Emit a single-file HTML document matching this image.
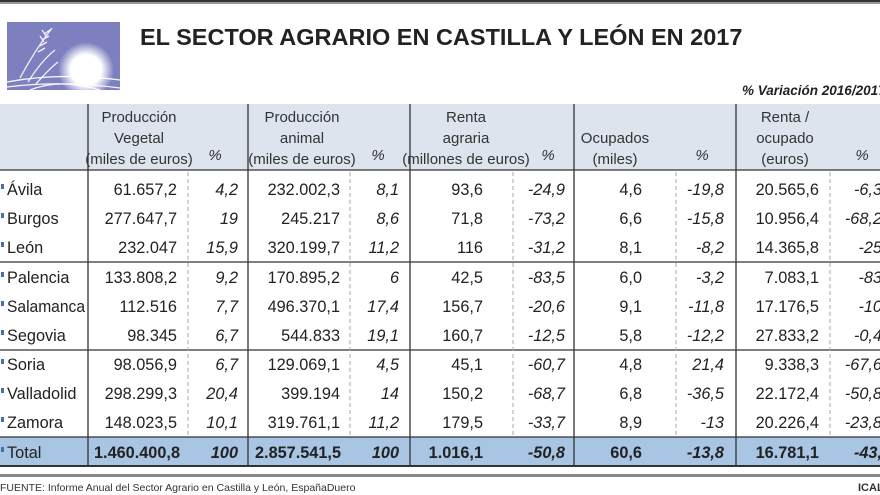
<!DOCTYPE html>
<html><head><meta charset="utf-8"><style>
html,body{margin:0;padding:0;background:#fff}
svg{display:block}
text{font-family:"Liberation Sans",sans-serif;fill:#222}
.n{font-size:16.3px}
.i{font-style:italic}
.h{font-size:15px;fill:#333}
</style></head><body>
<svg width="880" height="495" viewBox="0 0 880 495" xmlns="http://www.w3.org/2000/svg">
<rect x="0" y="0" width="880" height="2" fill="#333"/>
<rect x="0" y="2" width="880" height="2" fill="#999"/>
<defs><radialGradient id="sun" cx="0.5" cy="0.5" r="0.5"><stop offset="0.55" stop-color="#fff"/><stop offset="1" stop-color="#fff" stop-opacity="0"/></radialGradient></defs>
<rect x="7" y="22" width="113" height="68" fill="#7e7fbf"/>
<circle cx="86" cy="70" r="28" fill="url(#sun)"/>
<g stroke="#fff" stroke-width="1.3" fill="none" opacity="0.9">
<path d="M20 78 Q35 50 52 28"/><path d="M28 82 Q42 60 55 50"/><path d="M35 85 Q48 70 58 62"/>
<path d="M7 82 Q60 72 120 80"/><path d="M7 87 Q60 80 120 88"/><path d="M30 90 Q60 78 100 90"/>
<path d="M44 34 l6 -4 M42 40 l7 -4 M40 46 l7 -4 M38 52 l7 -4 M46 36 l-4 -6 M44 42 l-4 -6"/>
</g>
<text x="140" y="45" style="font-size:23.5px;font-weight:bold;fill:#222">EL SECTOR AGRARIO EN CASTILLA Y LEÓN EN 2017</text>
<text x="742" y="95" style="font-size:13.5px;font-weight:bold;font-style:italic;fill:#222">% Variación 2016/2017</text>
<rect x="0" y="104" width="880" height="66" fill="#dde4ee"/>
<rect x="0" y="437" width="880" height="29" fill="#a9c5e4"/>
<g stroke="#333" stroke-width="1.3">
<line x1="0" y1="170" x2="880" y2="170"/>
<line x1="0" y1="262" x2="880" y2="262"/>
<line x1="0" y1="350" x2="880" y2="350"/>
<line x1="0" y1="437" x2="880" y2="437"/>
<line x1="0" y1="466" x2="880" y2="466" stroke-width="2"/>
<line x1="88" y1="104" x2="88" y2="466"/>
<line x1="248" y1="104" x2="248" y2="466"/>
<line x1="410" y1="104" x2="410" y2="466"/>
<line x1="574" y1="104" x2="574" y2="466"/>
<line x1="736" y1="104" x2="736" y2="466"/>
</g>
<g stroke="#aaa" stroke-width="1" stroke-dasharray="4,3">
<line x1="188" y1="172" x2="188" y2="436"/><line x1="350" y1="172" x2="350" y2="436"/>
<line x1="513" y1="172" x2="513" y2="436"/><line x1="676" y1="172" x2="676" y2="436"/>
<line x1="830" y1="172" x2="830" y2="436"/>
</g>
<rect x="0" y="474" width="880" height="3" fill="#888"/>
<text x="0" y="491" style="font-size:10.5px;fill:#333">FUENTE: Informe Anual del Sector Agrario en Castilla y León, EspañaDuero</text>
<text x="858" y="491" style="font-size:11px;font-weight:bold;fill:#333">ICAL</text>
<g class="h" text-anchor="middle">
<text x="139" y="122" class="h">Producción</text><text x="139" y="143" class="h">Vegetal</text><text x="139" y="164" class="h">(miles de euros)</text>
<text x="215" y="160" class="h i">%</text>
<text x="302" y="122" class="h">Producción</text><text x="302" y="143" class="h">animal</text><text x="302" y="164" class="h">(miles de euros)</text>
<text x="378" y="160" class="h i">%</text>
<text x="466" y="122" class="h">Renta</text><text x="466" y="143" class="h">agraria</text><text x="466" y="164" class="h">(millones de euros)</text>
<text x="548" y="160" class="h i">%</text>
<text x="615" y="143" class="h">Ocupados</text><text x="615" y="164" class="h">(miles)</text>
<text x="702" y="160" class="h i">%</text>
<text x="785" y="122" class="h">Renta /</text><text x="785" y="143" class="h">ocupado</text><text x="785" y="164" class="h">(euros)</text>
<text x="862" y="160" class="h i">%</text>
</g>
<g fill="#4a6fa0">
<rect x="1" y="184" width="3" height="5"/><rect x="1" y="213" width="3" height="5"/><rect x="1" y="242" width="3" height="5"/>
<rect x="1" y="272" width="3" height="5"/><rect x="1" y="301" width="3" height="5"/><rect x="1" y="330" width="3" height="5"/>
<rect x="1" y="359" width="3" height="5"/><rect x="1" y="388" width="3" height="5"/><rect x="1" y="417" width="3" height="5"/>
<rect x="1" y="447" width="3" height="5"/>
</g>
<g class="n">
<text x="7" y="195">Ávila</text><text x="7" y="224">Burgos</text><text x="7" y="253">León</text>
<text x="7" y="283">Palencia</text><text x="7" y="312" textLength="78" lengthAdjust="spacingAndGlyphs">Salamanca</text><text x="7" y="341">Segovia</text>
<text x="7" y="370">Soria</text><text x="7" y="399">Valladolid</text><text x="7" y="428">Zamora</text>
<text x="7" y="458">Total</text>
</g>
<g class="n" text-anchor="end">
<text x="177" y="195">61.657,2</text><text x="177" y="224">277.647,7</text><text x="177" y="253">232.047</text><text x="177" y="283">133.808,2</text><text x="177" y="312">112.516</text><text x="177" y="341">98.345</text><text x="177" y="370">98.056,9</text><text x="177" y="399">298.299,3</text><text x="177" y="428">148.023,5</text>
<g class="i"><text x="238" y="195">4,2</text><text x="238" y="224">19</text><text x="238" y="253">15,9</text><text x="238" y="283">9,2</text><text x="238" y="312">7,7</text><text x="238" y="341">6,7</text><text x="238" y="370">6,7</text><text x="238" y="399">20,4</text><text x="238" y="428">10,1</text></g>
<text x="340" y="195">232.002,3</text><text x="340" y="224">245.217</text><text x="340" y="253">320.199,7</text><text x="340" y="283">170.895,2</text><text x="340" y="312">496.370,1</text><text x="340" y="341">544.833</text><text x="340" y="370">129.069,1</text><text x="340" y="399">399.194</text><text x="340" y="428">319.761,1</text>
<g class="i"><text x="399" y="195">8,1</text><text x="399" y="224">8,6</text><text x="399" y="253">11,2</text><text x="399" y="283">6</text><text x="399" y="312">17,4</text><text x="399" y="341">19,1</text><text x="399" y="370">4,5</text><text x="399" y="399">14</text><text x="399" y="428">11,2</text></g>
<text x="483" y="195">93,6</text><text x="483" y="224">71,8</text><text x="483" y="253">116</text><text x="483" y="283">42,5</text><text x="483" y="312">156,7</text><text x="483" y="341">160,7</text><text x="483" y="370">45,1</text><text x="483" y="399">150,2</text><text x="483" y="428">179,5</text>
<g class="i"><text x="565" y="195">-24,9</text><text x="565" y="224">-73,2</text><text x="565" y="253">-31,2</text><text x="565" y="283">-83,5</text><text x="565" y="312">-20,6</text><text x="565" y="341">-12,5</text><text x="565" y="370">-60,7</text><text x="565" y="399">-68,7</text><text x="565" y="428">-33,7</text></g>
<text x="642" y="195">4,6</text><text x="642" y="224">6,6</text><text x="642" y="253">8,1</text><text x="642" y="283">6,0</text><text x="642" y="312">9,1</text><text x="642" y="341">5,8</text><text x="642" y="370">4,8</text><text x="642" y="399">6,8</text><text x="642" y="428">8,9</text>
<g class="i"><text x="724" y="195">-19,8</text><text x="724" y="224">-15,8</text><text x="724" y="253">-8,2</text><text x="724" y="283">-3,2</text><text x="724" y="312">-11,8</text><text x="724" y="341">-12,2</text><text x="724" y="370">21,4</text><text x="724" y="399">-36,5</text><text x="724" y="428">-13</text></g>
<text x="819" y="195">20.565,6</text><text x="819" y="224">10.956,4</text><text x="819" y="253">14.365,8</text><text x="819" y="283">7.083,1</text><text x="819" y="312">17.176,5</text><text x="819" y="341">27.833,2</text><text x="819" y="370">9.338,3</text><text x="819" y="399">22.172,4</text><text x="819" y="428">20.226,4</text>
<g class="i"><text x="882" y="195">-6,3</text><text x="882" y="224">-68,2</text><text x="882" y="253">-25</text><text x="882" y="283">-83</text><text x="882" y="312">-10</text><text x="882" y="341">-0,4</text><text x="882" y="370">-67,6</text><text x="882" y="399">-50,8</text><text x="882" y="428">-23,8</text></g>
<g style="font-weight:bold">
<text x="180" y="458">1.460.400,8</text><text x="341" y="458">2.857.541,5</text><text x="483" y="458">1.016,1</text><text x="642" y="458">60,6</text><text x="819" y="458">16.781,1</text>
<g class="i"><text x="238" y="458">100</text><text x="399" y="458">100</text><text x="565" y="458">-50,8</text><text x="724" y="458">-13,8</text><text x="882" y="458">-43,</text></g>
</g>
</g>
</svg>
</body></html>
